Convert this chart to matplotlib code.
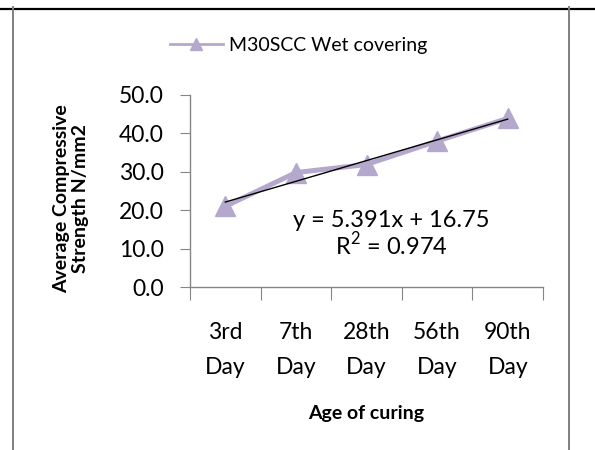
import matplotlib
matplotlib.use("Agg")
import matplotlib.pyplot as plt
from matplotlib.lines import Line2D
import numpy as np

categories = ["3rd\nDay", "7th\nDay", "28th\nDay", "56th\nDay", "90th\nDay"]
strength = [21.0, 29.8, 31.9, 38.0, 43.9]
series_name = "M30SCC Wet covering"
trend_text = "y = 5.391x + 16.75"
r2_text = "R$^2$ = 0.974"
yticks = [0, 10, 20, 30, 40, 50]

plt.rcParams['font.family'] = ['Lato', 'DejaVu Sans']
plt.rcParams['mathtext.fontset'] = 'custom'
plt.rcParams['mathtext.rm'] = 'Lato'
purple = '#B4A8CC'
axis_grey = '#868686'

fig = plt.figure(figsize=(5.95, 4.5), dpi=100)
W, H = 595, 450
ax = fig.add_axes([190 / W, 1 - 287 / H, (543 - 190) / W, (287 - 95) / H])

x = np.arange(len(categories))
ax.plot(x, strength, color=purple, lw=3.6, marker='^', ms=14, mec=purple, mfc=purple,
        solid_joinstyle='round', zorder=2)

# linear trendline (x = 1..n as in the spreadsheet)
xn = x + 1
coef = np.polyfit(xn, strength, 1)
ax.plot(x, np.polyval(coef, xn), color='black', lw=1, zorder=3)

ax.set_xlim(-0.5, len(categories) - 0.5)
ax.set_ylim(0, 50)
ax.set_yticks(yticks)
ax.set_yticklabels([f"{v:.1f}" for v in yticks])
ax.set_xticks(np.arange(-0.5, len(categories), 1.0))
ax.set_xticklabels([])
ax.set_xticks(x, minor=True)
ax.set_xticklabels(categories, minor=True)

for s in ['top', 'right']:
    ax.spines[s].set_visible(False)
for s in ['left', 'bottom']:
    ax.spines[s].set_color(axis_grey)
    ax.spines[s].set_linewidth(1)
ax.tick_params(axis='y', which='major', direction='out', length=7, color=axis_grey,
               labelsize=16.5, pad=12, labelcolor='black')
ax.tick_params(axis='x', which='major', direction='out', length=9, color=axis_grey)
ax.tick_params(axis='x', which='minor', length=0, labelsize=16.5, pad=25)
for lab in ax.get_xticklabels(minor=True):
    lab.set_linespacing(1.85)

fig.text(71 / W, 1 - 199 / H, "Average Compressive\nStrength N/mm2", fontsize=14,
         fontweight='bold', rotation=90, ha='center', va='center', linespacing=1.1)
fig.text(366 / W, 1 - 419 / H, "Age of curing", fontsize=14, fontweight='bold',
         ha='center', va='baseline')

ax.text(2.347, 15.6, trend_text, fontsize=17, ha='center', va='baseline')
ax.text(2.347, 8.33, r2_text, fontsize=17, ha='center', va='baseline')

handle = Line2D([], [], color=purple, lw=2, marker='^', ms=8, mfc=purple, mec=purple)
fig.legend([handle], [series_name], loc='center', bbox_to_anchor=(298.5 / W, 1 - 45 / H),
           frameon=False, fontsize=14, handlelength=2.7, handletextpad=0.3,
           borderpad=0, borderaxespad=0)

# page/table borders
fig.add_artist(Line2D([0, 1], [1 - 8.5 / H, 1 - 8.5 / H], color='black', lw=1.6,
                      transform=fig.transFigure))
for xp in [13, 569]:
    fig.add_artist(Line2D([xp / W, xp / W], [0, 1 - 7 / H], color='#7f7f7f', lw=1.4,
                          transform=fig.transFigure))

fig.savefig("out.png", dpi=100)
